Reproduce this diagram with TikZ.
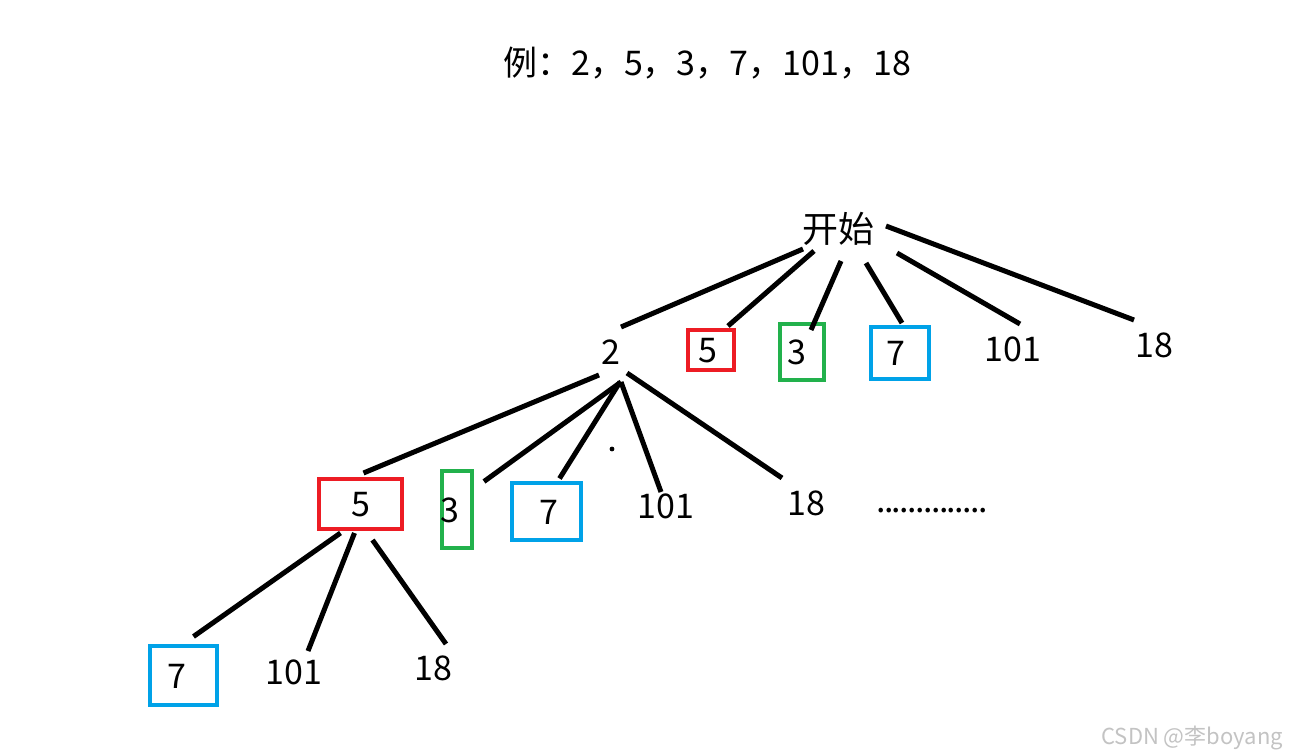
\documentclass[tikz,border=0pt]{standalone}
\usepackage{fontspec}
\setmainfont{Noto Sans CJK SC}
\usepackage{xcolor}
\usetikzlibrary{positioning}
\definecolor{cRed}{RGB}{237,28,36}
\definecolor{cGreen}{RGB}{34,177,76}
\definecolor{cBlue}{RGB}{0,162,232}
\definecolor{cMark}{RGB}{195,195,195}
\tikzset{
  num/.style={inner sep=0pt, text height=25pt, text depth=0pt,
              font=\fontsize{34}{40}\selectfont},
  rbox/.style={num, draw=cRed, line width=4.5pt},
  gbox/.style={num, draw=cGreen, line width=4.5pt},
  bbox/.style={num, draw=cBlue, line width=4.5pt},
  head/.style={inner sep=0pt, font=\fontsize{34}{40}\selectfont},
  rootn/.style={inner sep=0pt, text height=30pt, text depth=2.5pt,
              font=\fontsize{36}{42}\selectfont},
  edge/.style={line width=5pt, black},
  wmark/.style={inner sep=0pt, text=cMark, font=\fontsize{22}{26}\selectfont},
}
\newcommand{\nudge}[2]{\hspace*{#1}#2}

\begin{document}
\begin{tikzpicture}[x=1pt, y=-1pt]
  \useasboundingbox[fill=white] (0,0) rectangle (1289,754);
  \node[head, anchor=base west] (ex) at (503,76) {例：2，5，3，7，101，18};

  % level 0 / 1
  \node[rootn] (root) at (838,229) {开始};
  \node[num] (a2) at (611,352) {2};
  \node[rbox, minimum width=46pt, minimum height=40pt] (a5) at (711,350) {\nudge{-7pt}{5}};
  \node[gbox, minimum width=44pt, minimum height=56pt] (a3) at (802,352) {\nudge{-10pt}{3}};
  \node[bbox, minimum width=58pt, minimum height=52pt] (a7) at (900,353) {\nudge{-8pt}{7}};
  \node[num] (a101) at (1013,349) {101};
  \node[num] (a18) at (1154,345) {18};

  % level 2
  \node[rbox, minimum width=83pt, minimum height=50pt] (b5) at (360.5,504) {5};
  \node[gbox, minimum width=30pt, minimum height=77pt] (b3) at (457,509.5) {\nudge{-14pt}{3}};
  \node[bbox, minimum width=69pt, minimum height=57pt] (b7) at (546.5,511.5) {\nudge{5pt}{7}};
  \node[num] (b101) at (666,506) {101};
  \node[num] (b18) at (806,503) {18};
  \node[head, anchor=base west] (more) at (876,512) {\foreach \i in {1,...,14}{.\kern-1.6pt}};

  % level 3
  \node[bbox, minimum width=67pt, minimum height=59pt] (c7) at (183.5,675.5) {\nudge{-13pt}{7}};
  \node[num] (c101) at (294,672) {101};
  \node[num] (c18) at (433,668) {18};

  \draw[edge] ([shift={(-35,20)}]root.center) -- ([shift={(10,-25)}]a2.center);
  \draw[edge] ([shift={(-24,22)}]root.center) -- ([shift={(17,-24)}]a5.center);
  \draw[edge] ([shift={(3,32)}]root.center) -- ([shift={(9,-22)}]a3.center);
  \draw[edge] ([shift={(28,34)}]root.center) -- ([shift={(2,-30)}]a7.center);
  \draw[edge] ([shift={(59,24)}]root.center) -- ([shift={(7,-25)}]a101.center);
  \draw[edge] ([shift={(48,-3)}]root.center) -- ([shift={(-20,-25)}]a18.center);

  \draw[edge] ([shift={(-12,23)}]a2.center) -- ([shift={(3,-31)}]b5.center);
  \draw[edge] ([shift={(10,30)}]a2.center) -- ([shift={(27,-28)}]b3.center);
  \draw[edge] ([shift={(9,30)}]a2.center) -- ([shift={(13,-33)}]b7.center);
  \draw[edge] ([shift={(10,30)}]a2.center) -- ([shift={(-5,-14)}]b101.center);
  \draw[edge] ([shift={(16,21)}]a2.center) -- ([shift={(-24,-25)}]b18.center);
  \fill (612,449) circle (2.4pt);

  \draw[edge] ([shift={(-20,29)}]b5.center) -- ([shift={(10,-39)}]c7.center);
  \draw[edge] ([shift={(-6,29)}]b5.center) -- ([shift={(14,-21)}]c101.center);
  \draw[edge] ([shift={(12,36)}]b5.center) -- ([shift={(13,-24)}]c18.center);

  \node[wmark, anchor=base east] (wm) at (1283,744) {CSDN @李boyang};
\end{tikzpicture}
\end{document}
